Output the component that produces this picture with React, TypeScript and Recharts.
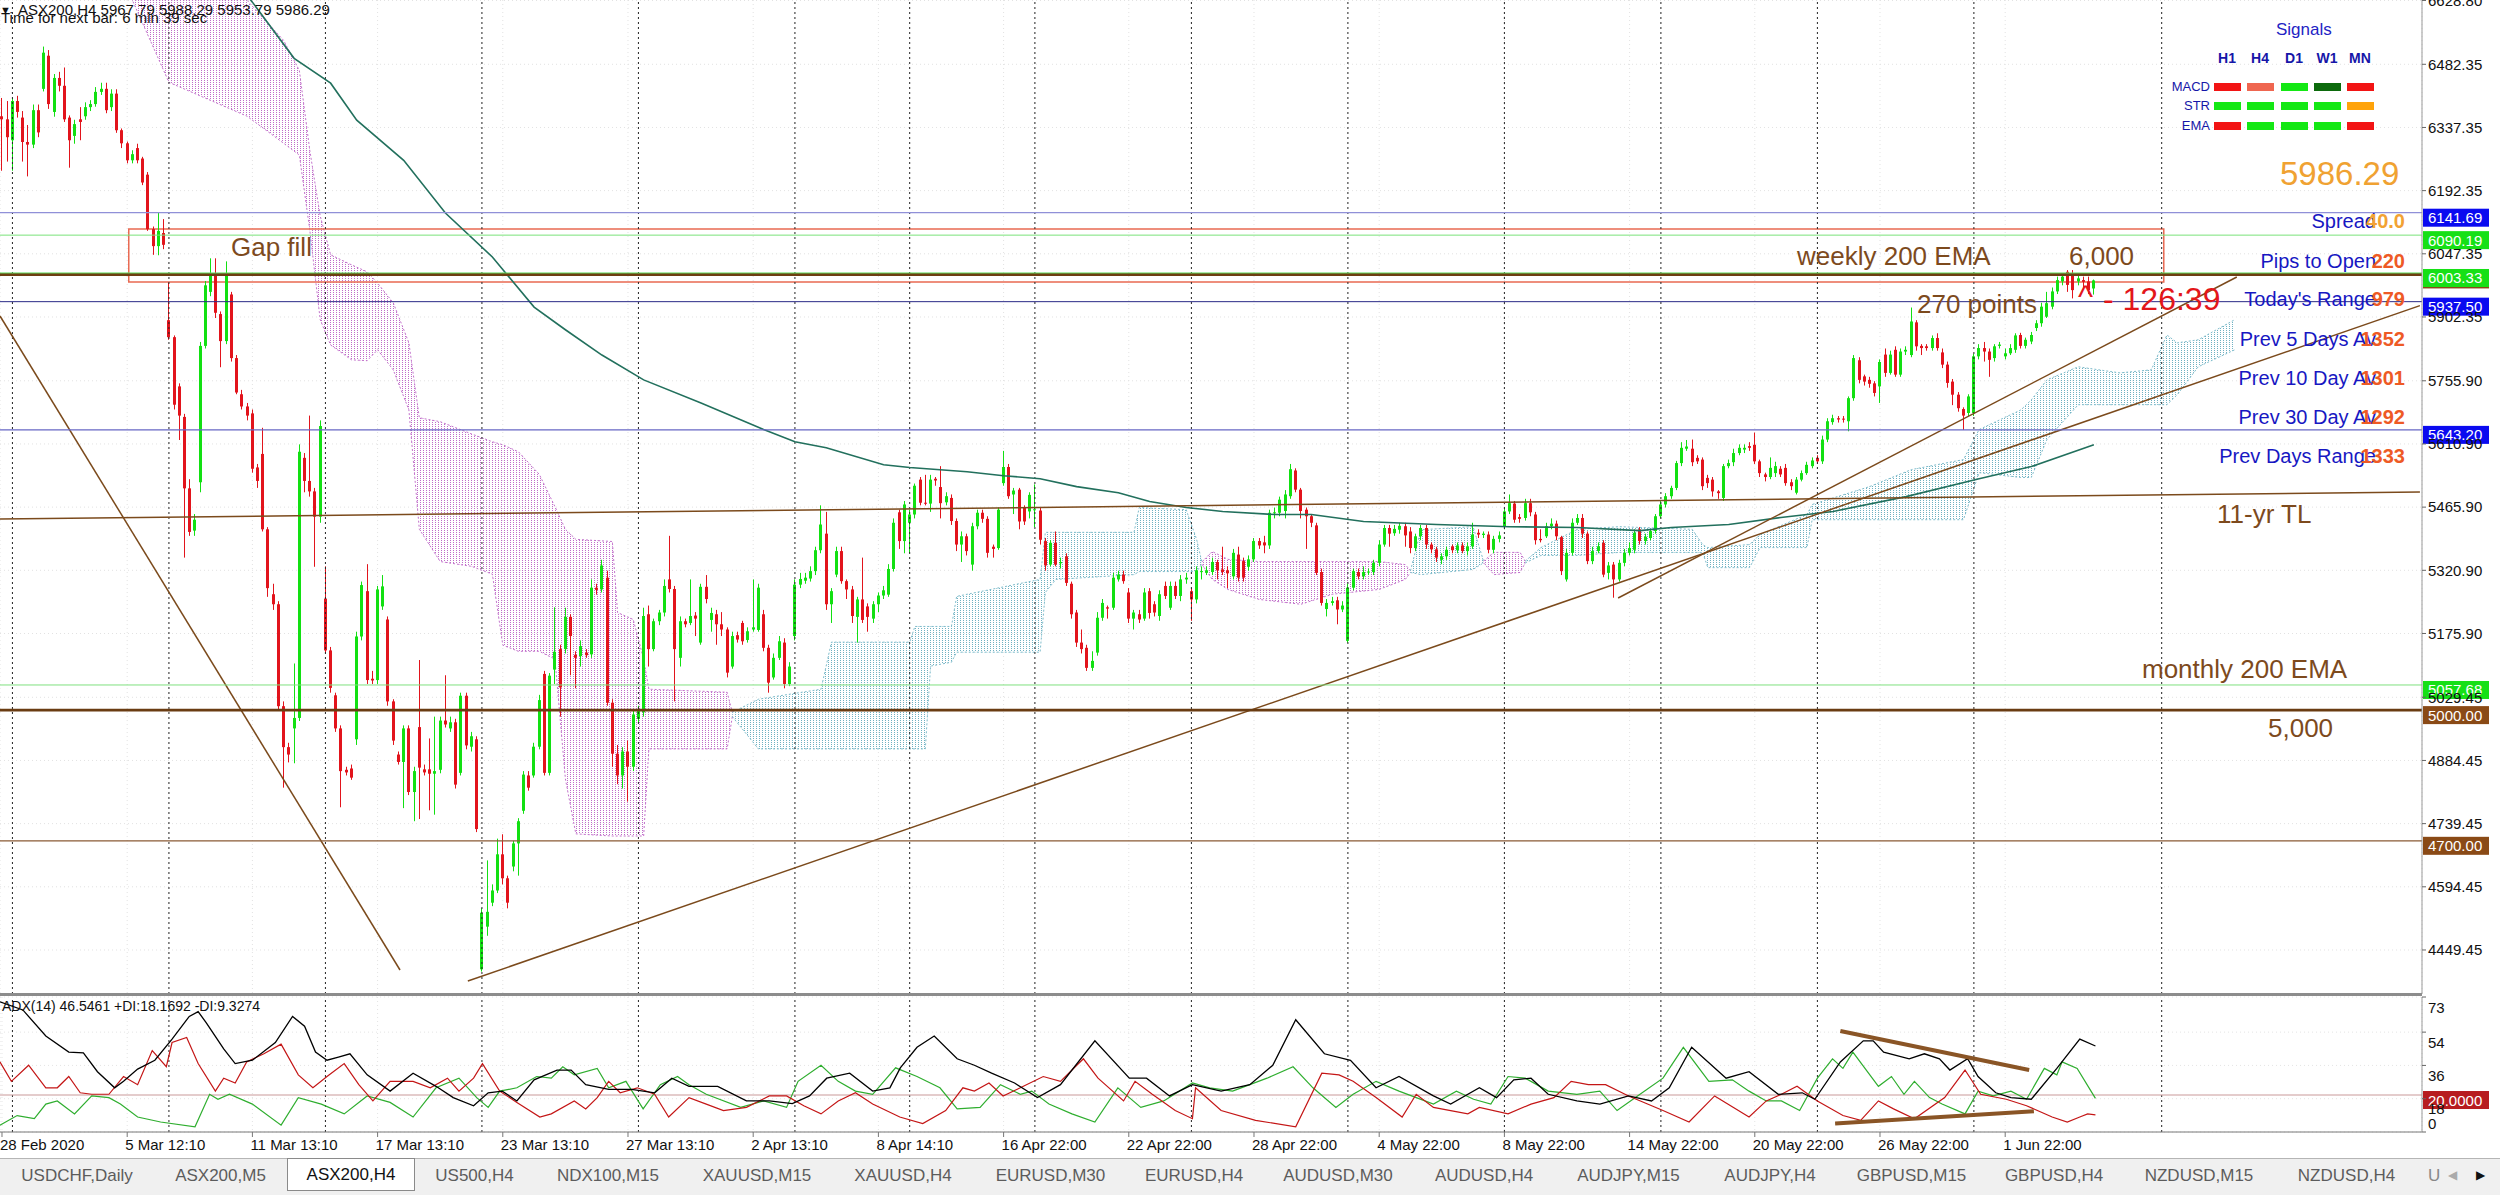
import React from "react"
import {
  ComposedChart,
  Bar,
  Line,
  Area,
  XAxis,
  YAxis,
  CartesianGrid,
  ReferenceLine,
  ReferenceArea
} from "recharts"

// H4 candles grouped by trading week: [open, high, low, close]
const weekFeb24 = [[6363,6405,6238,6356],[6356,6398,6259,6315]]
const weekMar02 = [
  [6308,6405,6238,6398],[6398,6410,6360,6373],[6360,6375,6259,6304],[6304,6343,6225,6298],[6298,6390,6290,6377],
  [6377,6390,6315,6326],[6426,6523,6420,6509],[6502,6515,6380,6391],[6373,6460,6362,6451],[6451,6465,6420,6433],
  [6433,6475,6350,6356],[6360,6365,6245,6308],[6318,6355,6300,6345],[6356,6384,6308,6350],[6363,6395,6355,6384],
  [6384,6400,6375,6391],[6391,6430,6385,6419],[6419,6440,6412,6426],[6426,6440,6370,6377],[6384,6425,6375,6415],
  [6415,6425,6325,6331],[6331,6335,6290,6301],[6301,6305,6255,6262],[6262,6285,6255,6276],[6290,6300,6255,6262],
  [6266,6270,6205,6211],[6229,6235,6100,6104],[6104,6110,6045,6065],[6065,6141,6044,6100],[6095,6127,6058,6068]
]
const weekMar09 = [
  [5895,5981,5850,5856],[5856,5860,5690,5701],[5743,5750,5620,5676],[5673,5680,5350,5509],[5509,5530,5400,5409],
  [5412,5450,5400,5437],[5523,5845,5500,5836],[5836,5985,5830,5975],[5960,6037,5950,6002],[6002,6037,5900,5912],
  [5909,5915,5787,5847],[5847,6030,5840,6002],[5954,5960,5800,5808],[5808,5815,5725,5729],[5725,5735,5690,5697],
  [5697,5705,5665,5676],[5681,5690,5545,5554],[5557,5565,5510,5526],[5588,5648,5410,5415],[5415,5420,5260,5280],
  [5266,5290,5230,5243],[5243,5250,5000,5009],[5009,5020,4822,4915],[4915,4925,4880,4898],[4958,5107,4878,4982],
  [4982,5610,4975,5593],[5579,5590,5500,5526],[5526,5676,5490,5502],[5502,5510,5329,5444],[5444,5665,5430,5652]
]
const weekMar16 = [
  [5256,5330,5130,5137],[5137,5145,5040,5051],[5034,5040,4950,4958],[4958,4965,4777,4860],[4863,4870,4850,4857],
  [4866,4875,4840,4845],[4933,5180,4920,5169],[5169,5295,5160,5287],[5273,5335,5060,5069],[5072,5090,5060,5068],
  [5069,5285,5060,5277],[5238,5310,5230,5284],[5208,5215,5010,5020],[5020,5025,4920,4930],[4898,4905,4875,4881],
  [4881,4965,4775,4958],[4958,4965,4805,4812],[4812,4870,4745,4860],[4961,5115,4750,4868],[4864,4875,4850,4857],
  [4864,4935,4770,4854],[4854,4985,4760,4860],[4863,4985,4855,4976],[4976,5080,4960,4967],[4958,4985,4950,4972],
  [4972,4980,4820,4829],[4856,5040,4850,5033],[5033,5040,4910,4919],[4916,4950,4905,4940],[4933,4940,4720,4727]
]
const weekMar23 = [
  [4405,4545,4400,4535],[4503,4655,4482,4537],[4558,4600,4550,4586],[4586,4705,4580,4669],[4669,4715,4600,4614],
  [4614,4620,4545,4558],[4641,4700,4630,4694],[4694,4752,4620,4745],[4769,4860,4762,4852],[4850,4860,4815,4822],
  [4850,4925,4845,4916],[4916,5035,4910,5023],[5083,5090,4850,4856],[4856,5085,4850,5079],[5093,5236,5060,5134],
  [5140,5150,4985,5052],[5140,5235,5130,5214],[5214,5220,5080,5170],[5127,5135,5050,5120],[5124,5160,5100,5147],
  [5132,5140,5120,5126],[5128,5300,5120,5281],[5281,5290,5265,5276],[5277,5345,5270,5332],[5304,5320,5010,5017],
  [5017,5025,4870,4900],[4900,4920,4830,4850],[4850,4915,4820,4905],[4905,4930,4790,4870],[4870,5000,4860,4990]
]
const weekMar30 = [
  [4980,5010,4970,5000],[4995,5235,4985,5216],[5220,5240,5100,5140],[5140,5210,5135,5204],[5204,5230,5195,5224],
  [5224,5300,5215,5285],[5300,5400,5270,5278],[5278,5285,5020,5140],[5120,5215,5100,5204],[5204,5210,5190,5197],
  [5200,5300,5195,5216],[5217,5225,5170,5210],[5155,5290,5150,5283],[5283,5310,5245,5255],[5207,5235,5180,5223],
  [5220,5230,5150,5197],[5197,5225,5170,5185],[5185,5190,5075,5086],[5100,5180,5095,5170],[5172,5180,5155,5162],
  [5200,5205,5150,5158],[5161,5190,5155,5181],[5185,5300,5180,5190],[5184,5290,5180,5281],[5220,5230,5135,5143],
  [5143,5150,5040,5063],[5075,5130,5070,5120],[5120,5170,5115,5158],[5155,5165,5050,5060],[5060,5110,5055,5100]
]
const weekApr06 = [
  [5170,5300,5160,5288],[5288,5315,5280,5301],[5297,5315,5290,5304],[5302,5330,5295,5319],[5319,5375,5310,5367],
  [5367,5470,5360,5426],[5405,5455,5230,5243],[5243,5280,5200,5273],[5311,5375,5305,5365],[5365,5375,5290,5296],
  [5296,5300,5255,5277],[5277,5285,5200,5216],[5214,5260,5155,5254],[5254,5350,5200,5207],[5238,5245,5180,5214],
  [5210,5250,5200,5243],[5243,5270,5225,5263],[5263,5285,5255,5275],[5265,5335,5260,5324],[5324,5440,5318,5430],
  [5454,5460,5370,5388],[5388,5480,5360,5472]
]
const weekApr13 = [
  [5430,5460,5360,5449],[5449,5520,5440,5515],[5529,5535,5470,5476],[5476,5540,5470,5474],[5474,5540,5455,5529],
  [5531,5535,5515,5527],[5512,5560,5440,5475],[5477,5500,5470,5491],[5487,5495,5425,5434],[5434,5440,5365,5380],
  [5380,5410,5340,5399],[5399,5405,5355,5365],[5334,5430,5320,5422],[5422,5460,5415,5453],[5453,5460,5430,5439],
  [5439,5445,5350,5361],[5375,5380,5350,5370],[5372,5465,5368,5460],[5521,5595,5515,5558],[5558,5565,5485,5491],
  [5495,5510,5450,5504],[5506,5510,5415,5433],[5464,5470,5425,5433],[5456,5500,5440,5494]
]
const weekApr20 = [
  [5460,5518,5420,5461],[5458,5465,5380,5391],[5388,5395,5320,5332],[5334,5390,5330,5384],[5384,5410,5330,5334],
  [5337,5350,5325,5340],[5353,5360,5285,5292],[5290,5295,5210,5220],[5224,5230,5145,5155],[5155,5185,5130,5140],
  [5143,5150,5090,5097],[5097,5135,5090,5113],[5132,5225,5125,5212],[5212,5255,5205,5246],[5236,5240,5210,5233],
  [5235,5315,5230,5304],[5300,5320,5295,5311],[5311,5320,5290,5296],[5270,5280,5200,5210],[5210,5230,5185,5224],
  [5220,5230,5200,5208],[5210,5280,5205,5270],[5273,5280,5210,5223],[5243,5250,5215,5224],[5216,5275,5205,5266],
  [5285,5295,5255,5262],[5235,5295,5230,5285],[5285,5295,5255,5262],[5262,5310,5250,5300],[5300,5315,5290,5304]
]
const weekApr27 = [
  [5273,5280,5205,5254],[5254,5330,5245,5321],[5318,5330,5300,5319],[5315,5330,5310,5321],[5317,5350,5310,5340],
  [5340,5345,5300,5321],[5323,5375,5310,5317],[5321,5330,5280,5314],[5307,5370,5300,5361],[5357,5375,5295,5304],
  [5342,5350,5295,5304],[5329,5355,5320,5346],[5346,5395,5340,5388],[5388,5395,5370,5378],[5385,5400,5360,5378],
  [5378,5460,5370,5453],[5453,5465,5440,5454],[5453,5490,5445,5483],[5457,5505,5440,5495],[5491,5565,5485,5553],
  [5550,5555,5500,5506],[5506,5510,5440,5457],[5460,5465,5370,5445],[5445,5450,5420,5430],[5424,5430,5310,5315],
  [5317,5325,5240,5246],[5232,5255,5215,5246],[5246,5260,5240,5250],[5252,5260,5197,5231],[5231,5250,5225,5240]
]
const weekMay04 = [
  [5159,5290,5155,5281],[5281,5325,5275,5319],[5317,5325,5300,5307],[5307,5330,5300,5317],[5317,5325,5310,5318],
  [5317,5345,5310,5338],[5338,5390,5330,5380],[5380,5425,5375,5418],[5418,5425,5375,5405],[5406,5425,5400,5416],
  [5414,5430,5405,5423],[5422,5430,5375,5401],[5410,5420,5360,5372],[5372,5405,5365,5399],[5399,5425,5390,5418],
  [5418,5425,5370,5380],[5380,5385,5360,5369],[5369,5375,5340,5350],[5345,5360,5335,5353],[5353,5375,5345,5368],
  [5376,5380,5360,5367],[5367,5385,5360,5378],[5378,5385,5360,5365],[5365,5385,5355,5376],[5376,5430,5370,5403],
  [5407,5415,5395,5403],[5402,5410,5395,5405],[5403,5410,5360,5368],[5368,5400,5360,5393],[5393,5410,5385,5401]
]
const weekMay11 = [
  [5422,5465,5415,5456],[5456,5495,5450,5475],[5474,5480,5430,5437],[5443,5450,5430,5439],[5441,5485,5435,5475],
  [5475,5485,5445,5454],[5449,5455,5380,5390],[5393,5415,5385,5390],[5399,5430,5395,5422],[5422,5440,5415,5428],
  [5428,5435,5390,5399],[5397,5400,5310,5319],[5300,5370,5295,5361],[5361,5440,5355,5430],[5430,5450,5425,5441],
  [5441,5450,5395,5405],[5405,5410,5335,5342],[5342,5375,5335,5365],[5365,5385,5360,5376],[5384,5390,5305,5311],
  [5315,5340,5300,5332],[5334,5340,5258,5300],[5300,5345,5295,5338],[5338,5370,5330,5361],[5361,5385,5355,5372],
  [5368,5415,5360,5407],[5415,5420,5380,5388],[5388,5405,5380,5398],[5395,5415,5390,5411],[5411,5450,5405,5445]
]
const weekMay18 = [
  [5445,5480,5440,5472],[5472,5498,5465,5491],[5491,5515,5485,5510],[5510,5572,5505,5567],[5567,5615,5560,5602],
  [5600,5620,5595,5605],[5600,5621,5560,5569],[5579,5585,5565,5571],[5575,5580,5505,5514],[5533,5540,5510,5521],
  [5529,5535,5490,5502],[5502,5505,5485,5498],[5487,5565,5480,5560],[5560,5575,5555,5567],[5569,5600,5560,5590],
  [5590,5610,5585,5602],[5598,5610,5590,5602],[5606,5615,5595,5602],[5609,5637,5565,5571],[5571,5575,5535,5544],
  [5541,5545,5525,5535],[5535,5580,5530,5556],[5544,5570,5535,5560],[5554,5560,5535,5541],[5556,5565,5515,5521],
  [5523,5530,5505,5514],[5499,5535,5495,5529],[5529,5550,5525,5544],[5544,5570,5540,5563],[5560,5580,5555,5573]
]
const weekMay25 = [
  [5579,5585,5565,5571],[5571,5630,5565,5621],[5621,5670,5615,5663],[5661,5678,5655,5670],[5670,5675,5660,5667],
  [5669,5675,5660,5667],[5663,5720,5640,5716],[5716,5815,5710,5808],[5803,5810,5750,5758],[5766,5770,5745,5754],
  [5758,5765,5740,5749],[5750,5755,5720,5728],[5743,5805,5705,5799],[5816,5830,5765,5774],[5774,5825,5770,5816],
  [5827,5835,5765,5770],[5770,5830,5765,5823],[5823,5835,5815,5827],[5815,5924,5810,5892],[5890,5895,5825,5835],
  [5836,5840,5815,5831],[5835,5840,5825,5831],[5831,5860,5825,5854],[5854,5865,5825,5831],[5821,5830,5785,5793],
  [5793,5800,5740,5751],[5754,5760,5700,5724],[5724,5730,5685,5693],[5691,5695,5643,5676],[5682,5725,5675,5720]
]
const weekJun01 = [
  [5682,5818,5675,5812],[5812,5840,5805,5831],[5831,5845,5800,5823],[5823,5830,5765,5804],[5808,5840,5800,5835],
  [5836,5845,5830,5839],[5812,5830,5805,5819],[5819,5840,5815,5831],[5827,5865,5820,5860],[5861,5866,5830,5836],
  [5836,5855,5830,5850],[5846,5868,5840,5861],[5877,5895,5870,5888],[5888,5935,5880,5926],[5903,5960,5900,5934],
  [5926,5970,5920,5961],[5961,5995,5955,5987],[5984,6003,5975,5995],[6006,6010,5960,5976],[5999,6010,5945,5964],
  [5984,6000,5975,5991],[5987,5995,5970,5983],[5984,5995,5955,5964],[5967.79,5988.29,5953.79,5986.29]
]

// 200 EMA (H4): [bar, value]
const emaPoints = [
  [40,6740],[48,6625],[56,6496],[63,6439],[68,6354],[77,6262],[85,6141],[94,6040],[102,5925],[108,5873],
  [115,5815],[123,5758],[134,5705],[146,5644],[152,5616],[158,5602],[169,5563],[174,5557],[185,5547],[192,5538],
  [199,5531],[206,5513],[214,5499],[220,5479],[227,5465],[234,5456],[244,5449],[251,5449],[261,5433],[275,5426],
  [289,5421],[302,5419],[314,5412],[320,5419],[331,5426],[341,5442],[351,5456],[365,5490],[379,5531],[389,5559],
  [401,5609]
]

// Ichimoku cloud sections: [bar, upper, lower]
const cloudPinkA = [
  [22,6780,6700],[25,6790,6629],[32,6760,6441],[47,6629,6363],[54,6537,6301],[57,6468,6274],[59,6285,6102],
  [61,6134,5896],[63,6045,5838],[67,6022,5804],[70,6006,5802],[72,5980,5827],[75,5935,5781],[78,5843,5689],
  [80,5671,5415],[84,5662,5341],[90,5634,5330],[94,5616,5312],[96,5609,5149],[99,5593,5135],[103,5541,5135],
  [106,5467,5117],[108,5415,4842],[110,5392,4716],[117,5387,4711],[118,5224,4711],[121,5208,4711],[123,5117,4711],
  [124,5048,4911],[139,5041,4911],[140,4995,4985]
]
const cloudCyanB = [
  [140,4995,4985],[145,5025,4911],[157,5048,4911],[159,5156,4911],[174,5156,4911],[175,5192,4911],[177,5192,4911],
  [178,5192,5101],[182,5192,5110],[183,5261,5133],[199,5300,5133],[200,5408,5270],[202,5408,5300],[217,5408,5311],
  [218,5465,5318],[227,5460,5318],[229,5392,5318],[230,5340,5335]
]
const cloudPinkC = [
  [230,5340,5335],[232,5364,5300],[235,5346,5277],[241,5341,5254],[249,5341,5243],[255,5341,5266],[264,5341,5277],
  [269,5334,5300],[270,5320,5316]
]
const cloudCyanD = [[270,5320,5316],[272,5414,5311],[282,5421,5323],[284,5342,5338]]
const cloudPinkE = [[284,5342,5338],[286,5362,5311],[291,5362,5316],[292,5342,5338]]
const cloudCyanF = [
  [292,5342,5338],[295,5373,5355],[302,5415,5355],[310,5421,5362],[324,5415,5362],[326,5380,5362],[327,5373,5327],
  [335,5380,5327],[337,5403,5373],[346,5449,5373],[347,5472,5437],[358,5513,5437],[366,5552,5437],[376,5575,5437],
  [379,5644,5545],[387,5689,5534],[389,5712,5534],[392,5758,5621],[398,5788,5701],[406,5774,5701],[412,5781,5701],
  [415,5861,5701],[417,5843,5724],[421,5850,5788],[428,5896,5827]
]

// ADX(14) window: [bar, value]
const adxPoints = [
  [-0.4,70.4],[4,66],[8.4,51.9],[12.8,43.2],[15.6,42.8],[18.3,32.6],[21.6,23.9],[23.3,27.4],[26,34],[29.3,38.8],
  [32.6,50.2],[35.9,62.5],[37.6,65.1],[39.2,58.9],[42.5,44.9],[44.7,37],[48,38.8],[52.4,48.4],[55.7,62.5],[58,57.2],
  [60.1,43.2],[62.3,38.8],[64.5,40.5],[66.7,42.3],[70,30.9],[74.4,22.1],[78.8,31.8],[83.2,24.7],[86.5,18.6],[90.4,14.2],
  [93.2,21.2],[95.9,22.1],[98.7,16.8],[102,28.2],[106.4,33.5],[109.1,33.5],[111.9,25.6],[116.3,23],[120.7,23],[125.1,21.2],
  [128.4,29.1],[131.7,24.7],[137.2,24.7],[142.7,16.8],[147.1,16.8],[151.5,15.4],[154.8,19.5],[158.1,29.1],[162.5,31.8],
  [166.9,22.1],[170.2,23.9],[172.2,34.7],[175.4,45.8],[178.7,51.9],[183.1,39.6],[186.4,36.1],[189.7,31.8],[194.1,26.5],
  [198.5,18.6],[202.9,25.6],[209.5,49.3],[216.1,29.1],[219.4,29.1],[223.8,19.5],[228.2,25.6],[233.7,22.1],[239.2,25.6],
  [243.6,36.1],[248,60.7],[253.5,42.3],[258.5,38.8],[263.4,23.9],[267.8,30],[274.4,19.5],[277.7,15.1],[283.2,23.9],
  [286.5,18.6],[289.8,28.2],[293.1,29.1],[296.4,20.4],[301.9,16.8],[306.3,15.1],[311.8,19.5],[316.2,16.8],[319.6,23.9],
  [323.9,45.8],[330.5,29.1],[334.9,32.6],[340.5,20.4],[345.1,21.2],[347.5,17.7],[352.4,37.9],[356.8,49.3],[358.7,49.3],
  [360.7,43.2],[365.6,39.6],[368.5,42.3],[371.4,39.6],[373.4,33.5],[376.8,39.6],[378.8,30],[382.2,21.2],[385.1,18.6],
  [389,17.7],[393.9,34.4],[398.3,50.2],[401.3,46.5]
]
const minusDiPoints = [
  [-0.4,37.9],[1.8,27.4],[5.1,36.1],[8.4,23.9],[10.6,23.9],[12.8,30],[15,21.2],[17.2,20.4],[20.5,20.4],[23.3,30],
  [26,25.6],[28.8,44],[31.5,35.3],[32.6,48.4],[35.4,51.1],[37.6,37],[40.9,22.1],[42.5,29.1],[44.7,26.5],[46.9,37.9],
  [50.2,42.3],[53.5,47.5],[56.8,30.9],[59.6,23.9],[62.3,30],[65.6,37],[68.4,25.6],[71.1,16.8],[74.4,27.4],[78.8,27.4],
  [82.1,23.9],[85.4,29.1],[87.6,22.1],[90.4,29.1],[92.1,37],[95.4,22.1],[98.7,16],[103.1,8.1],[105.3,9.8],[109.7,16.8],
  [111.9,12.5],[114.1,18.6],[116.3,27.4],[118.5,21.2],[121.8,23.9],[125.1,20.4],[127.8,8.1],[131.7,18.6],[135,15.1],
  [138.3,11.6],[142.7,13.3],[147.1,19.5],[150.4,19.5],[153.7,14.2],[157,9.8],[160.3,16.8],[163.6,21.2],[166.9,15.1],
  [172.1,8.1],[176.5,4.6],[180.9,11.6],[184.2,23.9],[186.4,22.1],[189.2,26.5],[191.9,19.5],[195.2,23.9],[199.6,30],
  [202.9,27.4],[207.3,39.6],[210.1,29.1],[215,16.8],[217.2,27.4],[220.5,20.4],[224.9,11.6],[228.2,7.2],[228.8,23.9],
  [233.7,11.6],[240.3,6.3],[248,2.8],[253,31.8],[256.3,30.9],[259,27.4],[263.4,18.6],[268.4,8.1],[271.1,20.4],
  [274.4,13.3],[277.7,11.6],[281,9.8],[283.2,13.3],[288.7,9.8],[293.1,15.1],[297.5,18.6],[300.8,27.4],[304.1,25.6],
  [307.4,25.6],[311.8,19.5],[318.4,11.6],[323.4,5.4],[328.3,19.5],[334.9,8.1],[338.2,16.8],[341.1,20.4],[344.1,24.7],
  [348,16.8],[352.9,8.9],[356.3,6.3],[359.7,16.8],[362.6,12.5],[366.6,7.2],[372.4,18.6],[376.3,33.5],[379.3,20.4],
  [384.2,17.7],[388.1,14.2],[393,8.1],[395.9,5.4],[398.3,8.1],[399.8,9.8],[401.3,9.3]
]
const plusDiPoints = [
  [-0.4,3.7],[2.9,8.9],[6.2,7.2],[8.4,15.1],[10.6,16.8],[13.9,9.8],[17.2,19.5],[20.5,18.6],[22.7,15.1],[26,8.1],
  [30.4,5.4],[37,2.8],[39.8,20.4],[41.4,17.7],[43.6,20.4],[48,15.1],[53.5,3.7],[56.8,18.6],[61.2,15.1],[65.6,9.8],
  [70,19.5],[74.4,16],[78.8,8.1],[83.2,23.9],[87.6,29.1],[91,18.6],[93.2,13.3],[95.4,22.1],[98.7,23.9],[102.5,30],
  [105.3,29.1],[107.5,35.3],[109.7,30.9],[114.1,34.4],[116.3,23.9],[119.6,27.4],[122.9,12.5],[126.2,25.6],[129.5,30],
  [131.7,25.6],[135,20.4],[141.6,13.3],[146,16.8],[150.4,13.3],[152.6,27.4],[157,36.1],[160.3,27.4],[163.6,22.1],
  [166.9,20.4],[171.3,34.7],[175.4,30],[179.8,23.9],[183.1,12.5],[187.5,13.3],[191.4,25.6],[195.2,20.4],[197.4,22.1],
  [200.7,15.1],[205.1,9.8],[209.5,5.4],[213.9,23.9],[218.3,13.3],[222.7,16.8],[228.2,26.5],[231.5,23.9],[235.9,22.1],
  [239.2,25.6],[242.5,29.1],[247.5,35.3],[251.3,23.9],[255.7,13.3],[259,20.4],[263.4,27.4],[267.8,22.1],[271.1,18.6],
  [274.4,15.1],[278.8,22.1],[282.1,17.7],[285.4,15.1],[288.7,30],[292,29.1],[296.4,22.1],[301.9,20.4],[306.3,22.1],
  [309.6,11.6],[314,20.4],[318.4,29.1],[322.3,45.8],[327.2,27.4],[331.7,28.2],[334.9,22.1],[338.2,16.8],[341.1,16.8],
  [344.6,11.6],[348,29.1],[350.9,39.6],[352.9,34.4],[354.8,43.2],[359.7,24.7],[362.2,30],[364.6,20.4],[366.6,27.4],
  [369.5,18.6],[371.9,15.1],[376.3,9.8],[378.8,22.1],[381.7,19.5],[385.1,22.1],[388.1,17.7],[391.5,34.4],[393.9,30.9],
  [394.9,37.9],[397.8,34.4],[401.3,18.2]
]

const priceTicks = [6628.8,6482.35,6337.35,6192.35,6047.35,5902.35,5755.9,5610.9,5465.9,5320.9,5175.9,5029.45,4884.45,4739.45,4594.45,4449.45]
const adxTicks = [0,18,36,54,73]
const labelBars = [0,24,48,72,96,120,144,168,192,216,240,264,288,312,336,360,384]
const timeLabels = ["28 Feb 2020","5 Mar 12:10","11 Mar 13:10","17 Mar 13:10","23 Mar 13:10","27 Mar 13:10","2 Apr 13:10","8 Apr 14:10","16 Apr 22:00","22 Apr 22:00","28 Apr 22:00","4 May 22:00","8 May 22:00","14 May 22:00","20 May 22:00","26 May 22:00","1 Jun 22:00"]
const weekStartBars = [2,32,62,92,122,152,174,198,228,258,288,318,348,378,414]

const levelPrices = [6141.69,6090.19,6000,6003.33,5937.5,5643.2,5057.68,5000,4700]
const levelLook = [
  { line: "#9090d8", width: 1.3, tag: "#0a0af0" },
  { line: "#7ae27a", width: 1, tag: "#16e016" },
  { line: "#6e3f12", width: 3, tag: "#8a4a16" },
  { line: "#5fdc5f", width: 1, tag: "#16e016" },
  { line: "#2a2a86", width: 1, tag: "#0a0af0" },
  { line: "#6767c4", width: 1.2, tag: "#0a0af0" },
  { line: "#7fe07f", width: 1, tag: "#16e016" },
  { line: "#6a3c12", width: 2.6, tag: "#8a4a16" },
  { line: "#8a5a34", width: 1.2, tag: "#8a4a16" }
]

// hand drawn trend lines: [bar, price] pairs
const trendLines = [
  [[-0.38,5904.6],[76.3,4403.5]],
  [[89.3,4378.2],[463.5,5928.4]],
  [[309.8,5257.3],[428.4,5994.1]],
  [[-0.38,5438.6],[463.5,5500.6]]
]
const adxTrendLines = [
  [[352.4,54.6],[388.6,33.5]],
  [[351.4,4.6],[389.5,11.2]]
]
const gapFill = { fromBar: 24.3, toBar: 414.4, low: 5982.6, high: 6104.3 }

const infoLabels = ["Spread","Pips to Open","Today's Range","Prev 5 Days Av","Prev 10 Day Av","Prev 30 Day Av","Prev Days Range"]
const infoValues = ["40.0","220","979","1352","1301","1292","1333"]
const signalRows = ["MACD","STR","EMA"]
const signalCols = ["H1","H4","D1","W1","MN"]
const signalColors = [
  ["#f21414","#ef6650","#14e814","#0c6a0c","#f21414"],
  ["#14e814","#14e814","#14e814","#14e814","#ffa30a"],
  ["#f21414","#14e814","#14e814","#14e814","#f21414"]
]
const tabNames = ["USDCHF,Daily","ASX200,M5","ASX200,H4","US500,H4","NDX100,M15","XAUUSD,M15","XAUUSD,H4","EURUSD,M30","EURUSD,H4","AUDUSD,M30","AUDUSD,H4","AUDJPY,M15","AUDJPY,H4","GBPUSD,M15","GBPUSD,H4","NZDUSD,M15","NZDUSD,H4"]
const tabEdges = [0,155,287,416,534,683,832,975,1127,1262,1415,1554,1704,1837,1987,2122,2277,2417]

const FONT = '"Liberation Sans", Arial, sans-serif'
const X_DOMAIN = [-0.383, 463.9]
const Y_DOMAIN = [4348.4, 6629.9]
const BULL = "#12e012"
const BEAR = "#e2141c"
const BROWN = "#7d4a1d"

const candles = [weekFeb24, weekMar02, weekMar09, weekMar16, weekMar23, weekMar30, weekApr06, weekApr13,
  weekApr20, weekApr27, weekMay04, weekMay11, weekMay18, weekMay25, weekJun01].flat()

const cloudSections = [
  { key: "pinkA", pts: cloudPinkA, bull: false },
  { key: "cyanB", pts: cloudCyanB, bull: true },
  { key: "pinkC", pts: cloudPinkC, bull: false },
  { key: "cyanD", pts: cloudCyanD, bull: true },
  { key: "pinkE", pts: cloudPinkE, bull: false },
  { key: "cyanF", pts: cloudCyanF, bull: true }
]

const rows: any[] = []
for (let i = 0; i <= 428; i++) rows.push({ i })
candles.forEach(([o, h, l, c], i) => Object.assign(rows[i], { o, h, l, c, hl: [l, h] }))
emaPoints.forEach(([b, v]) => { rows[b].ema = v })
cloudSections.forEach(s => s.pts.forEach(([b, hi, lo]) => { rows[b][s.key] = [lo, hi] }))

const adxMap = new Map<number, any>()
const putAdx = (pts: number[][], key: string) => pts.forEach(([x, v]) => {
  const r = adxMap.get(x) || { x }
  r[key] = v
  adxMap.set(x, r)
})
putAdx(adxPoints, "adx")
putAdx(plusDiPoints, "pdi")
putAdx(minusDiPoints, "mdi")
const adxRows = [...adxMap.values()].sort((a, b) => a.x - b.x)

const last = candles[candles.length - 1]

function Candle(props: any) {
  const { x, y, width, height, payload } = props
  if (!payload || payload.o == null || !isFinite(y) || !isFinite(height)) return null
  const { o, h, l, c } = payload
  const top = Math.min(y, y + height)
  const span = Math.abs(height)
  const k = h > l ? span / (h - l) : 0
  const yO = top + (h - o) * k
  const yC = top + (h - c) * k
  const color = c >= o ? BULL : BEAR
  const cx = Math.floor(x + width / 2) + 0.5
  return (
    <g>
      <line x1={cx} x2={cx} y1={top} y2={top + span} stroke={color} strokeWidth={1} />
      <rect x={cx - 1.5} y={Math.min(yO, yC)} width={3} height={Math.max(1, Math.abs(yC - yO))} fill={color} />
    </g>
  )
}

const priceTag = (text: string, bg: string) => (props: any) => {
  const vb = props.viewBox
  if (!vb) return null
  const x = vb.x + vb.width + 1
  return (
    <g>
      <rect x={x} y={vb.y - 4} width={66} height={18} fill={bg} />
      <text x={x + 5} y={vb.y + 5} dominantBaseline="central" fill="#fff" fontSize={15} fontFamily={FONT}>{text}</text>
    </g>
  )
}

function TimeTick(props: any) {
  const { x, y, payload } = props
  const k = labelBars.indexOf(payload.value)
  return <text x={x - 2} y={y} dy="0.71em" fontSize={15} fill="#111" fontFamily={FONT}>{timeLabels[k]}</text>
}

function AdxTick(props: any) {
  const { x, y, payload } = props
  return (
    <text x={x} y={y + (payload.value === 0 ? -9 : 10)} dominantBaseline="central" fontSize={15} fill="#111" fontFamily={FONT}>
      {payload.value}
    </text>
  )
}

function Overlay() {
  const infoBase = [228, 268, 306, 346, 385, 424, 463]
  const cellX = [2214, 2247, 2281, 2314, 2347]
  const rowY = [83, 102, 122]
  return (
    <svg width={2500} height={1195} style={{ position: "absolute", left: 0, top: 0, pointerEvents: "none" }} fontFamily={FONT}>
      <text x={0} y={14} fontSize={11} fill="#111">▼</text>
      <text x={18} y={15} fontSize={15} fill="#111">
        {`ASX200,H4  ${last.map(v => v.toFixed(2)).join(" ")}`}
      </text>
      <text x={1} y={23} fontSize={15} fill="#111">Time for next bar: 6 min 39 sec</text>

      <text x={231} y={256} fontSize={26} fill={BROWN}>Gap fill</text>
      <text x={1797} y={265} fontSize={26} fill={BROWN}>weekly 200 EMA</text>
      <text x={2069} y={265} fontSize={26} fill={BROWN}>6,000</text>
      <text x={1917} y={313} fontSize={26} fill={BROWN}>270 points</text>
      <text x={2217} y={523} fontSize={26} fill={BROWN}>11-yr TL</text>
      <text x={2142} y={678} fontSize={26} fill={BROWN}>monthly 200 EMA</text>
      <text x={2268} y={737} fontSize={26} fill={BROWN}>5,000</text>
      <text x={2078} y={307} fontSize={32} fill="#e3161a">^</text>
      <text x={2103} y={310} fontSize={32} fill="#e3161a">- 126:39</text>

      <text x={2276} y={35} fontSize={17} fill="#2323c4">Signals</text>
      {signalCols.map((t, k) => (
        <text key={t} x={cellX[k] + 13} y={63} textAnchor="middle" fontSize={14} fontWeight="bold" fill="#1616a8">{t}</text>
      ))}
      {signalRows.map((t, r) => (
        <g key={t}>
          <text x={2210} y={rowY[r] + 8} textAnchor="end" fontSize={13} fill="#1616a8">{t}</text>
          {signalColors[r].map((col, k) => (
            <rect key={k} x={cellX[k]} y={rowY[r]} width={27} height={8} fill={col} />
          ))}
        </g>
      ))}
      <text x={2280} y={185} fontSize={33} fill="#f0a232">{last[3].toFixed(2)}</text>

      {infoLabels.map((t, k) => (
        <g key={t}>
          <text x={2376} y={infoBase[k]} textAnchor="end" fontSize={20} fill="#1717c2">{t}</text>
          <text x={2405} y={infoBase[k]} textAnchor="end" fontSize={20} fontWeight="bold" fill={k === 0 ? "#f2a233" : "#ee5a25"}>{infoValues[k]}</text>
        </g>
      ))}

      <text x={2} y={1011} fontSize={14} fill="#111">ADX(14) 46.5461 +DI:18.1692 -DI:9.3274</text>
    </svg>
  )
}

function TabBar() {
  return (
    <div style={{ position: "absolute", left: 0, top: 1158, width: 2500, height: 37, background: "#f0f0f0", borderTop: "1px solid #b5b5b5", fontFamily: FONT }}>
      {tabNames.map((n, k) => {
        const active = n === "ASX200,H4"
        return (
          <div key={n} style={{
            position: "absolute", left: tabEdges[k], width: tabEdges[k + 1] - tabEdges[k] - 1, top: active ? -1 : 3,
            height: active ? 33 : 28, background: active ? "#fff" : "transparent",
            borderRight: "1px solid #c6c6c6", border: active ? "1px solid #8a8a8a" : undefined,
            display: "flex", alignItems: "center", justifyContent: "center",
            fontSize: 17, color: active ? "#111" : "#5c5c5c", boxSizing: "border-box"
          }}>{n}</div>
        )
      })}
      <div style={{ position: "absolute", left: 2428, top: 7, fontSize: 17, color: "#888" }}>U</div>
      <div style={{ position: "absolute", left: 2448, top: 9, fontSize: 12, color: "#aaa" }}>◀</div>
      <div style={{ position: "absolute", left: 2476, top: 9, fontSize: 12, color: "#111" }}>▶</div>
    </div>
  )
}

export default function App() {
  return (
    <div style={{ position: "relative", width: 2500, height: 1195, background: "#fff", overflow: "hidden", fontFamily: FONT }}>
      <style>{"body{margin:0}"}</style>
      <div style={{ position: "absolute", left: 0, top: 0 }}>
        <ComposedChart width={2500} height={994} data={rows} margin={{ top: 0, right: 0, bottom: 0, left: 0 }}>
          <defs>
            <pattern id="pinkDots" width="3" height="2" patternUnits="userSpaceOnUse">
              <rect x="0" y="0" width="1" height="1" fill="#bf6cc8" />
            </pattern>
            <pattern id="cyanDots" width="3" height="2" patternUnits="userSpaceOnUse">
              <rect x="0" y="0" width="1" height="1" fill="#6fb1c2" />
            </pattern>
          </defs>
          <CartesianGrid stroke="#e2e2e2" strokeDasharray="1 3" />
          <XAxis type="number" dataKey="i" domain={X_DOMAIN} allowDataOverflow ticks={labelBars} hide />
          <YAxis
            orientation="right"
            type="number"
            width={78}
            domain={Y_DOMAIN}
            allowDataOverflow
            ticks={priceTicks}
            interval={0}
            tickFormatter={(v: number) => v.toFixed(2)}
            tick={{ fontSize: 15, fill: "#111" }}
            tickSize={4}
            tickLine={{ stroke: "#666" }}
            axisLine={{ stroke: "#999" }}
          />
          {weekStartBars.map(b => (
            <ReferenceLine key={"w" + b} x={b} stroke="#222" strokeDasharray="2 3" />
          ))}
          {cloudSections.map(s => (
            <Area
              key={s.key}
              dataKey={s.key}
              type="linear"
              stroke={s.bull ? "#7fbdcc" : "#c372cc"}
              strokeWidth={1}
              strokeDasharray="2 2"
              fill={s.bull ? "url(#cyanDots)" : "url(#pinkDots)"}
              fillOpacity={1}
              connectNulls
              dot={false}
              activeDot={false}
              isAnimationActive={false}
            />
          ))}
          <Line dataKey="ema" stroke="#22705d" strokeWidth={1.6} dot={false} activeDot={false} connectNulls isAnimationActive={false} />
          <Bar dataKey="hl" shape={Candle} barSize={3} isAnimationActive={false} />
          {trendLines.map((seg, k) => (
            <ReferenceLine
              key={"t" + k}
              segment={[{ x: seg[0][0], y: seg[0][1] }, { x: seg[1][0], y: seg[1][1] }]}
              stroke="#7b4a1c"
              strokeWidth={1.5}
              ifOverflow="visible"
            />
          ))}
          {levelPrices.map((p, k) => (
            <ReferenceLine
              key={"l" + k}
              y={p}
              stroke={levelLook[k].line}
              strokeWidth={levelLook[k].width}
              label={priceTag(p.toFixed(2), levelLook[k].tag)}
            />
          ))}
          <ReferenceArea
            x1={gapFill.fromBar}
            x2={gapFill.toBar}
            y1={gapFill.low}
            y2={gapFill.high}
            fill="none"
            fillOpacity={0}
            stroke="#e96a52"
            strokeWidth={1.5}
            ifOverflow="visible"
          />
        </ComposedChart>
      </div>

      <div style={{ position: "absolute", left: 0, top: 993, width: 2422, height: 3, background: "#8c8c8c" }} />

      <div style={{ position: "absolute", left: 0, top: 994 }}>
        <ComposedChart width={2500} height={165} data={adxRows} margin={{ top: 3, right: 0, bottom: 0, left: 0 }}>
          <CartesianGrid stroke="#e4e4e4" strokeDasharray="1 3" />
          <XAxis
            type="number"
            dataKey="x"
            domain={X_DOMAIN}
            allowDataOverflow
            ticks={labelBars}
            interval={0}
            height={27}
            tickSize={5}
            tick={<TimeTick />}
            tickLine={{ stroke: "#777" }}
            axisLine={{ stroke: "#777" }}
          />
          <YAxis
            orientation="right"
            type="number"
            width={78}
            domain={[0, 73]}
            allowDataOverflow
            ticks={adxTicks}
            interval={0}
            tickSize={4}
            tick={<AdxTick />}
            tickLine={{ stroke: "#666" }}
            axisLine={{ stroke: "#999" }}
          />
          {weekStartBars.map(b => (
            <ReferenceLine key={"aw" + b} x={b} stroke="#222" strokeDasharray="2 3" />
          ))}
          <ReferenceLine y={20} stroke="#c99a9a" strokeWidth={1.2} label={priceTag("20.0000", "#b71c1f")} />
          <Line dataKey="pdi" stroke="#2fae2f" strokeWidth={1.2} dot={false} activeDot={false} connectNulls isAnimationActive={false} />
          <Line dataKey="mdi" stroke="#c41616" strokeWidth={1.2} dot={false} activeDot={false} connectNulls isAnimationActive={false} />
          <Line dataKey="adx" stroke="#000" strokeWidth={1.3} dot={false} activeDot={false} connectNulls isAnimationActive={false} />
          {adxTrendLines.map((seg, k) => (
            <ReferenceLine
              key={"at" + k}
              segment={[{ x: seg[0][0], y: seg[0][1] }, { x: seg[1][0], y: seg[1][1] }]}
              stroke="#8a5526"
              strokeWidth={4}
              ifOverflow="visible"
            />
          ))}
        </ComposedChart>
      </div>

      <Overlay />
      <TabBar />
    </div>
  )
}
